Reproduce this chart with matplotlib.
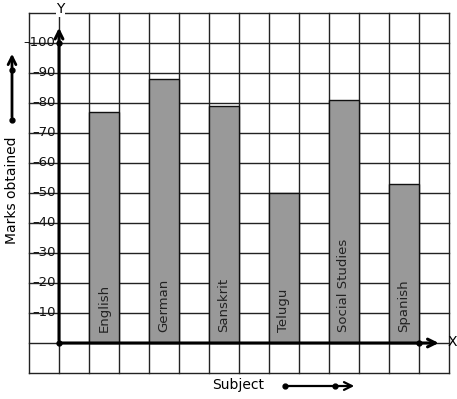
import matplotlib
matplotlib.use("Agg")
import matplotlib.pyplot as plt

subjects = ["English", "German", "Sanskrit", "Telugu", "Social Studies", "Spanish"]
marks = [77, 88, 79, 50, 81, 53]
y_ticks = [10, 20, 30, 40, 50, 60, 70, 80, 90, 100]

W, H = 457, 399
fig = plt.figure(figsize=(W / 100, H / 100), dpi=100)
ax = fig.add_axes([0, 0, 1, 1])
# pixel mapping: x_px = 59 + 30*x ; y_px = 343 - 3*y
ax.set_xlim(-59 / 30, (W - 59) / 30)
ax.set_ylim(-(H - 343) / 3, 343 / 3)
ax.axis("off")

# grid
for gx in range(-1, 14):
    ax.plot([gx, gx], [-10, 110], color="#222222", lw=1.0, zorder=1)
for gy in range(-10, 111, 10):
    ax.plot([-1, 13], [gy, gy], color="#222222", lw=1.0, zorder=1)

# bars
xs = [1.5 + 2 * i for i in range(len(subjects))]
ax.bar(xs, marks, width=1.0, color="#999999", edgecolor="#111111", lw=1.0, zorder=2)
for x, s in zip(xs, subjects):
    ax.text(x, 3.5, s, rotation=90, ha="center", va="bottom", fontsize=9.5,
            color="#222222", zorder=3)

# axes
ax.annotate("", xy=(12.75, 0), xytext=(0, 0),
            arrowprops=dict(arrowstyle="->", lw=2.2, color="black",
                            mutation_scale=14), zorder=4)
ax.annotate("", xy=(0, 106), xytext=(0, 0),
            arrowprops=dict(arrowstyle="->", lw=2.2, color="black",
                            mutation_scale=14), zorder=4)
ax.plot([0, 0, 12], [0, 100, 0], "o", color="black", ms=3.5, zorder=5)
ax.text((448 - 59) / 30, 0.3, "X", ha="left", va="center", fontsize=10)
ax.text(0.05, (343 - 9) / 3, "Y", ha="center", va="center", fontsize=10,
        bbox=dict(facecolor="white", edgecolor="none", pad=0.5))

# y tick labels
for t in y_ticks:
    ax.text(-0.12, t, "\u2013" + str(t), ha="right", va="center", fontsize=9.5,
            color="#111111", zorder=3)

# left annotation
lx = (12 - 59) / 30
ax.annotate("", xy=(lx, (343 - 51) / 3), xytext=(lx, (343 - 120) / 3),
            arrowprops=dict(arrowstyle="->", lw=2.0, color="black", mutation_scale=14))
ax.plot([lx, lx], [(343 - 120) / 3, (343 - 70) / 3], "o", color="black", ms=3.5)
ax.text(lx, (343 - 190) / 3, "Marks obtained", rotation=90, ha="center", va="center",
        fontsize=10)

# bottom annotation
by = (343 - 386) / 3
ax.annotate("", xy=((357 - 59) / 30, by), xytext=((285 - 59) / 30, by),
            arrowprops=dict(arrowstyle="->", lw=1.6, color="black", mutation_scale=14))
ax.plot([(285 - 59) / 30, (335 - 59) / 30], [by, by], "o", color="black", ms=3.5)
ax.text((238 - 59) / 30, (343 - 385) / 3, "Subject", ha="center", va="center", fontsize=10)

fig.savefig("out.png", dpi=100, facecolor="white")
